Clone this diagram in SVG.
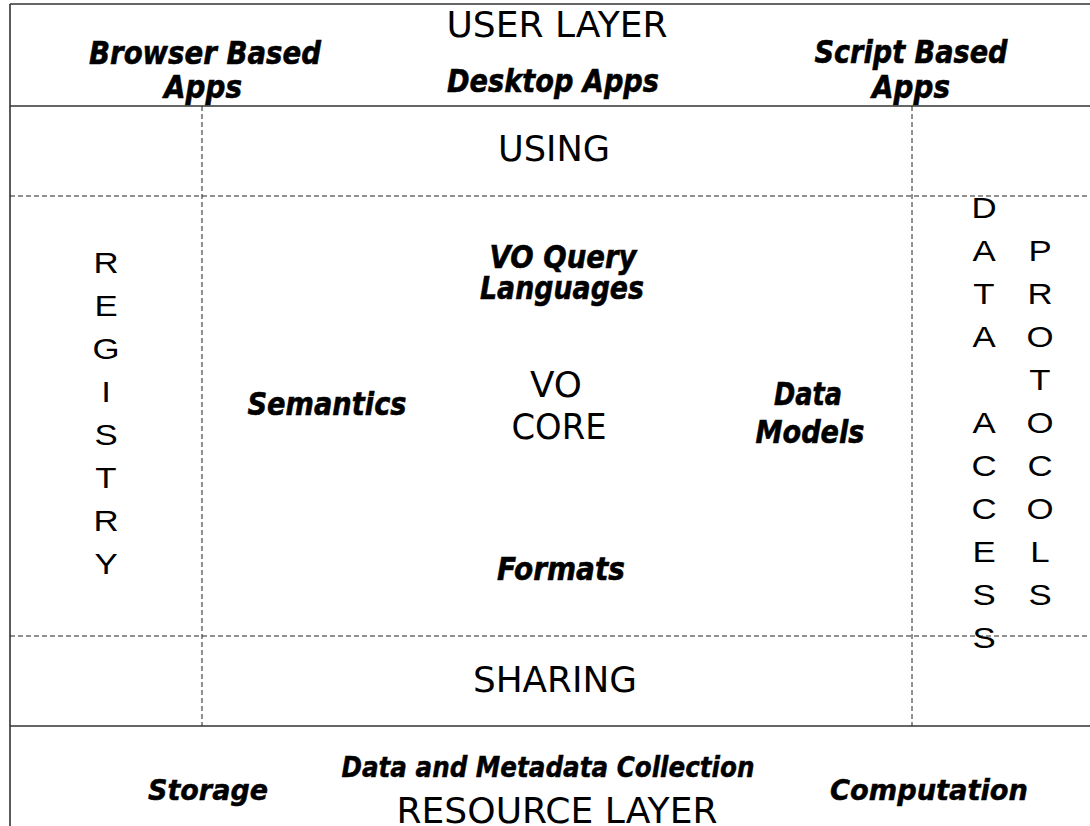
<svg xmlns="http://www.w3.org/2000/svg" width="1090" height="826" viewBox="0 0 1090 826">
<style>
.solid{stroke:#333;stroke-width:1.6;fill:none}
.dash{stroke:#222;stroke-width:1;stroke-dasharray:5,3;fill:none}
.reg{font-family:"DejaVu Sans",sans-serif;font-size:35px;fill:#000;text-anchor:middle}
.bi{font-family:"DejaVu Sans",sans-serif;font-size:32px;font-weight:bold;font-style:italic;fill:#000;stroke:#000;stroke-width:0.6;text-anchor:middle}
.bib{font-family:"DejaVu Sans",sans-serif;font-size:29px;font-weight:bold;font-style:italic;fill:#000;stroke:#000;stroke-width:0.5;text-anchor:middle}
.vert{font-family:"Liberation Sans",Arial,sans-serif;font-size:29px;fill:#000;text-anchor:middle}
</style>
<rect x="0" y="0" width="1090" height="826" fill="#fff"/>
<g id="grid">
<line class="solid" x1="10" y1="4" x2="1090" y2="4"/>
<line class="solid" x1="10" y1="4" x2="10" y2="826"/>
<line class="solid" x1="10" y1="106" x2="1090" y2="106"/>
<line class="solid" x1="10" y1="726" x2="1090" y2="726"/>
<line class="dash" x1="10" y1="196" x2="1090" y2="196"/>
<line class="dash" x1="10" y1="636" x2="1090" y2="636"/>
<line class="dash" x1="202" y1="106" x2="202" y2="726"/>
<line class="dash" x1="912" y1="106" x2="912" y2="726"/>
</g>
<g id="user-layer">
<text class="reg" x="557" y="37" textLength="221" lengthAdjust="spacingAndGlyphs">USER LAYER</text>
</g>
<g id="browser-apps">
<text class="bi" x="205" y="64" textLength="232" lengthAdjust="spacingAndGlyphs">Browser Based</text>
<text class="bi" x="203" y="98" textLength="78" lengthAdjust="spacingAndGlyphs">Apps</text>
</g>
<g id="desktop-apps">
<text class="bi" x="553" y="92" textLength="212" lengthAdjust="spacingAndGlyphs">Desktop Apps</text>
</g>
<g id="script-apps">
<text class="bi" x="911" y="63" textLength="193" lengthAdjust="spacingAndGlyphs">Script Based</text>
<text class="bi" x="911" y="98" textLength="78" lengthAdjust="spacingAndGlyphs">Apps</text>
</g>
<g id="using">
<text class="reg" x="554" y="161" textLength="112" lengthAdjust="spacingAndGlyphs">USING</text>
</g>
<g id="registry" transform="translate(106 0) scale(1.2 1)">
<text class="vert" x="0" y="273">R</text>
<text class="vert" x="0" y="316">E</text>
<text class="vert" x="0" y="359">G</text>
<text class="vert" x="0" y="402">I</text>
<text class="vert" x="0" y="445">S</text>
<text class="vert" x="0" y="488">T</text>
<text class="vert" x="0" y="531">R</text>
<text class="vert" x="0" y="574">Y</text>
</g>
<g id="query-languages">
<text class="bi" x="563" y="268" textLength="147" lengthAdjust="spacingAndGlyphs">VO Query</text>
<text class="bi" x="562" y="299" textLength="164" lengthAdjust="spacingAndGlyphs">Languages</text>
</g>
<g id="semantics">
<text class="bi" x="327" y="415" textLength="159" lengthAdjust="spacingAndGlyphs">Semantics</text>
</g>
<g id="vo-core">
<text class="reg" x="556" y="397" textLength="52" lengthAdjust="spacingAndGlyphs">VO</text>
<text class="reg" x="559" y="439" textLength="95" lengthAdjust="spacingAndGlyphs">CORE</text>
</g>
<g id="data-models">
<text class="bi" x="808" y="405" textLength="68" lengthAdjust="spacingAndGlyphs">Data</text>
<text class="bi" x="810" y="443" textLength="109" lengthAdjust="spacingAndGlyphs">Models</text>
</g>
<g id="formats">
<text class="bi" x="561" y="580" textLength="128" lengthAdjust="spacingAndGlyphs">Formats</text>
</g>
<g id="data-access" transform="translate(984 0) scale(1.2 1)">
<text class="vert" x="0" y="218">D</text>
<text class="vert" x="0" y="261">A</text>
<text class="vert" x="0" y="304">T</text>
<text class="vert" x="0" y="347">A</text>
<text class="vert" x="0" y="433">A</text>
<text class="vert" x="0" y="476">C</text>
<text class="vert" x="0" y="519">C</text>
<text class="vert" x="0" y="562">E</text>
<text class="vert" x="0" y="605">S</text>
<text class="vert" x="0" y="648">S</text>
</g>
<g id="protocols" transform="translate(1040 0) scale(1.2 1)">
<text class="vert" x="0" y="261">P</text>
<text class="vert" x="0" y="304">R</text>
<text class="vert" x="0" y="347">O</text>
<text class="vert" x="0" y="390">T</text>
<text class="vert" x="0" y="433">O</text>
<text class="vert" x="0" y="476">C</text>
<text class="vert" x="0" y="519">O</text>
<text class="vert" x="0" y="562">L</text>
<text class="vert" x="0" y="605">S</text>
</g>
<g id="sharing">
<text class="reg" x="555" y="692" textLength="164" lengthAdjust="spacingAndGlyphs">SHARING</text>
</g>
<g id="storage">
<text class="bib" x="208" y="800" textLength="120" lengthAdjust="spacingAndGlyphs">Storage</text>
</g>
<g id="collection">
<text class="bib" x="548" y="777" textLength="413" lengthAdjust="spacingAndGlyphs">Data and Metadata Collection</text>
</g>
<g id="computation">
<text class="bib" x="929" y="800" textLength="198" lengthAdjust="spacingAndGlyphs">Computation</text>
</g>
<g id="resource-layer">
<text class="reg" x="557" y="823" textLength="321" lengthAdjust="spacingAndGlyphs">RESOURCE LAYER</text>
</g>
</svg>
